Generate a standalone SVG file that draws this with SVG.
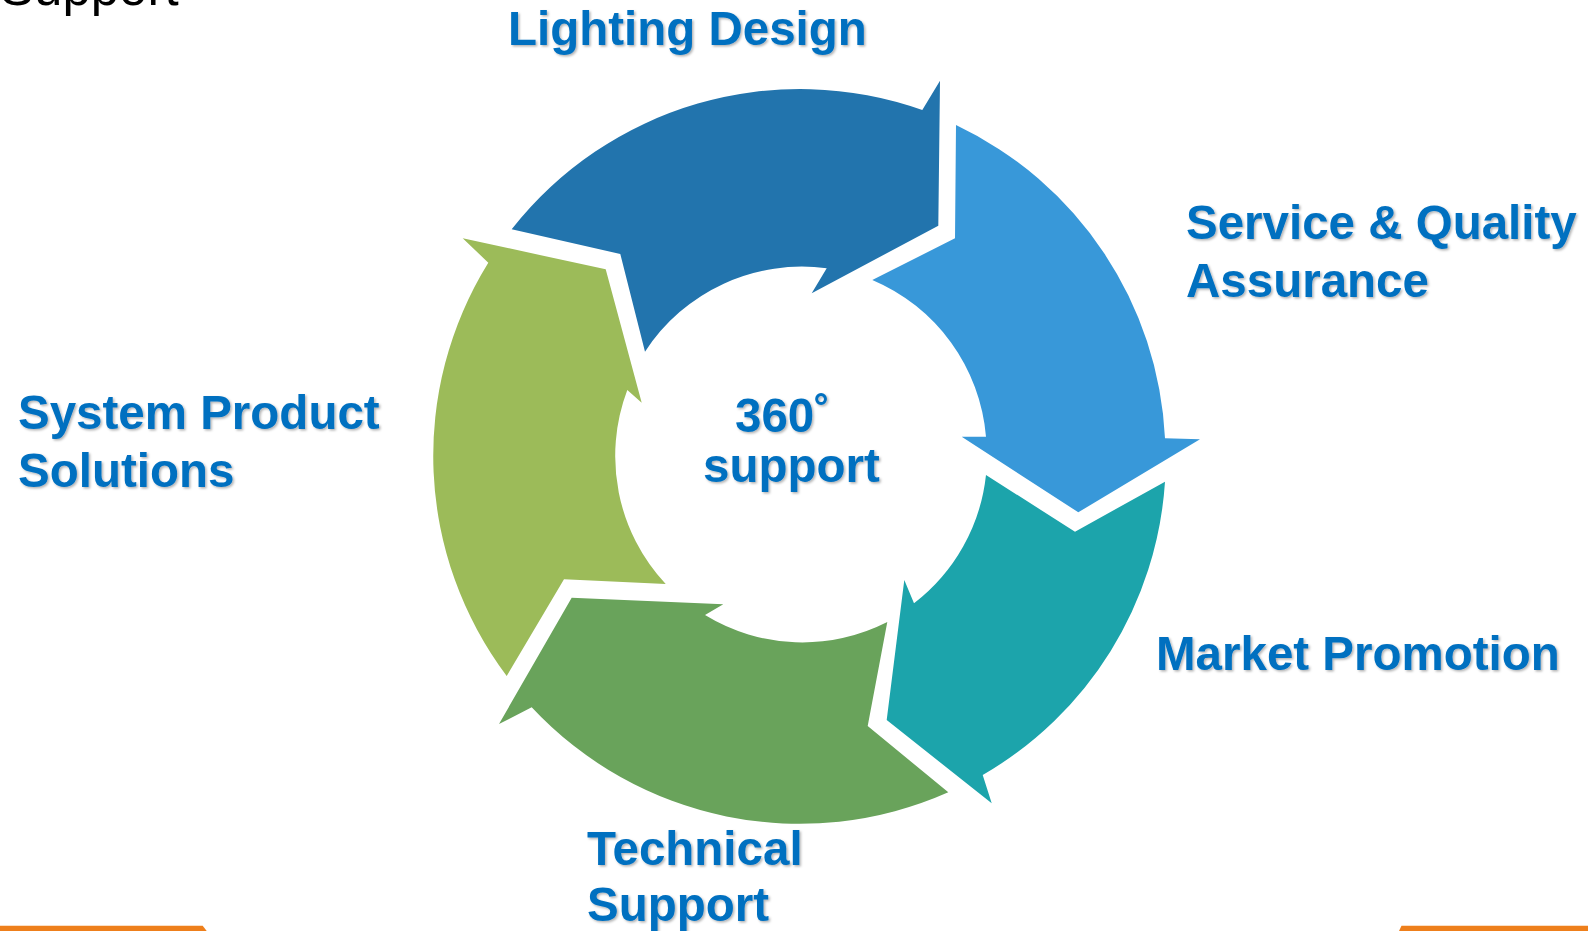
<svg xmlns="http://www.w3.org/2000/svg" width="1588" height="931" viewBox="0 0 1588 931">
  <defs>
    <filter id="sh" x="-5%" y="-20%" width="110%" height="150%">
      <feDropShadow dx="1.5" dy="1.5" stdDeviation="1" flood-color="#000" flood-opacity="0.3"/>
    </filter>
  </defs>
  <style>
    .lbl { font-family: "Liberation Sans", Arial, sans-serif; font-weight: bold; font-size: 47.5px; fill: #0070C0; filter: url(#sh); }
    .arrow { stroke: none; }
    .bar { fill: #EE7F1B; }
  </style>
  <rect width="1588" height="931" fill="#FFFFFF"/>

  <text x="0" y="5" font-family="Liberation Sans, Arial, sans-serif" font-size="51" fill="#000000">Support</text>

  <g id="lighting-design">
    <path class="arrow" fill="#2274AD" d="M 511.7 229.3 L 620.3 254 L 645 351.7 A 187 187 0 0 1 826.7 268.3 L 811.7 293.3 L 938.3 225.7 L 940 80.7 L 922.3 110 A 366.5 366.5 0 0 0 511.7 229.3 Z"/>
    <text class="lbl" x="508" y="45">Lighting Design</text>
  </g>

  <g id="service-quality">
    <path class="arrow" fill="#3898D9" d="M 956 125 L 955 238.3 L 872.3 280 A 187 187 0 0 1 986 436.7 L 961.7 436.7 L 1078.3 512.3 L 1200 439.3 L 1165 438.3 A 366.5 366.5 0 0 0 956 125 Z"/>
    <text class="lbl" x="1186" y="239">Service &amp; Quality</text>
    <text class="lbl" x="1186" y="296.5">Assurance</text>
  </g>

  <g id="market-promotion">
    <path class="arrow" fill="#1CA4AB" d="M 1165 481.7 L 1075 531.7 L 986 475 A 187 187 0 0 1 914 603.3 L 904.3 580 L 886.7 720 L 991.7 803.3 L 982.7 775 A 366.5 366.5 0 0 0 1165 481.7 Z"/>
    <text class="lbl" x="1156" y="670">Market Promotion</text>
  </g>

  <g id="technical-support">
    <path class="arrow" fill="#69A35B" d="M 948.3 792.3 L 867.7 726 L 887.3 622 A 187 187 0 0 1 705 615 L 723.3 604.3 L 571.7 597.7 L 499 724 L 531.7 707.3 A 366.5 366.5 0 0 0 948.3 792.3 Z"/>
    <text class="lbl" x="587" y="865">Technical</text>
    <text class="lbl" x="587" y="921">Support</text>
  </g>

  <g id="system-product">
    <path class="arrow" fill="#9CBB59" d="M 506.7 676 L 564 579.3 L 665.7 584 A 187 187 0 0 1 627.3 390 L 641.7 402.7 L 605.7 269.3 L 462.7 238.3 L 488.3 262.7 A 366.5 366.5 0 0 0 506.7 676 Z"/>
    <text class="lbl" x="18" y="429">System Product</text>
    <text class="lbl" x="18" y="487">Solutions</text>
  </g>

  <g id="center">
    <text class="lbl" x="735" y="431.5">360˚</text>
    <text class="lbl" x="703" y="482">support</text>
  </g>

  <g id="connectors"></g>

  <polygon class="bar" points="0,925.7 202.7,925.7 206.7,931 0,931"/>
  <polygon class="bar" points="1401.5,925.7 1588,925.7 1588,931 1399,931"/>
</svg>
